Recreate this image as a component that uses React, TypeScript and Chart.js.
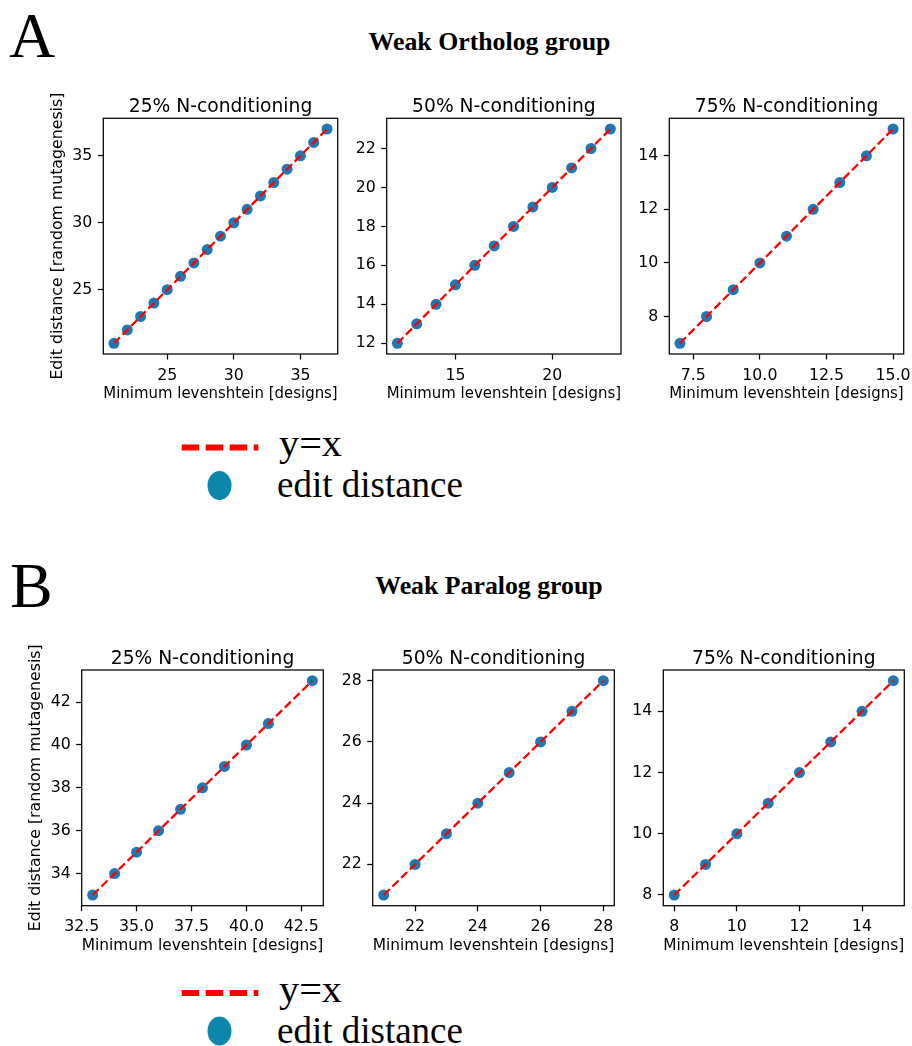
import React, { useEffect, useRef } from "react";
import { Chart, registerables } from "chart.js";

Chart.register(...registerables);

// ---------- data ----------
const A25_LEV = [21, 22, 23, 24, 25, 26, 27, 28, 29, 30, 31, 32, 33, 34, 35, 36, 37];
const A25_EDIT = [21, 22, 23, 24, 25, 26, 27, 28, 29, 30, 31, 32, 33, 34, 35, 36, 37];
const A50_LEV = [12, 13, 14, 15, 16, 17, 18, 19, 20, 21, 22, 23];
const A50_EDIT = [12, 13, 14, 15, 16, 17, 18, 19, 20, 21, 22, 23];
const A75_LEV = [7, 8, 9, 10, 11, 12, 13, 14, 15];
const A75_EDIT = [7, 8, 9, 10, 11, 12, 13, 14, 15];

const B25_LEV = [33, 34, 35, 36, 37, 38, 39, 40, 41, 43];
const B25_EDIT = [33, 34, 35, 36, 37, 38, 39, 40, 41, 43];
const B50_LEV = [21, 22, 23, 24, 25, 26, 27, 28];
const B50_EDIT = [21, 22, 23, 24, 25, 26, 27, 28];
const B75_LEV = [8, 9, 10, 11, 12, 13, 14, 15];
const B75_EDIT = [8, 9, 10, 11, 12, 13, 14, 15];

// tick labels
const A25_XTICKS = [25, 30, 35];
const A25_YTICKS = [25, 30, 35];
const A50_XTICKS = [15, 20];
const A50_YTICKS = [12, 14, 16, 18, 20, 22];
const A75_XTICKS = [7.5, 10.0, 12.5, 15.0];
const A75_YTICKS = [8, 10, 12, 14];
const B25_XTICKS = [32.5, 35.0, 37.5, 40.0, 42.5];
const B25_YTICKS = [34, 36, 38, 40, 42];
const B50_XTICKS = [22, 24, 26, 28];
const B50_YTICKS = [22, 24, 26, 28];
const B75_XTICKS = [8, 10, 12, 14];
const B75_YTICKS = [8, 10, 12, 14];

const PANEL_TITLES = ["25% N-conditioning", "50% N-conditioning", "75% N-conditioning"];
const GROUP_TITLES = ["Weak Ortholog group", "Weak Paralog group"];
const X_LABEL = "Minimum levenshtein [designs]";
const Y_LABEL = "Edit distance [random mutagenesis]";
const LEGEND_LABELS = ["y=x", "edit distance"];

// ---------- layout ----------
type Panel = {
  title: string;
  box: [number, number, number, number];
  lev: number[];
  edit: number[];
  xt: number[];
  yt: number[];
  xDec: number;
  yDec: number;
  yLabel: boolean;
};

const PANELS: Panel[] = [
  { title: PANEL_TITLES[0], box: [103.3, 118.3, 337.7, 354], lev: A25_LEV, edit: A25_EDIT, xt: A25_XTICKS, yt: A25_YTICKS, xDec: 0, yDec: 0, yLabel: true },
  { title: PANEL_TITLES[1], box: [386.7, 118.3, 621, 354], lev: A50_LEV, edit: A50_EDIT, xt: A50_XTICKS, yt: A50_YTICKS, xDec: 0, yDec: 0, yLabel: false },
  { title: PANEL_TITLES[2], box: [669.3, 118.3, 903.7, 354], lev: A75_LEV, edit: A75_EDIT, xt: A75_XTICKS, yt: A75_YTICKS, xDec: 1, yDec: 0, yLabel: false },
  { title: PANEL_TITLES[0], box: [81.7, 670, 323.3, 905.7], lev: B25_LEV, edit: B25_EDIT, xt: B25_XTICKS, yt: B25_YTICKS, xDec: 1, yDec: 0, yLabel: true },
  { title: PANEL_TITLES[1], box: [372.7, 670, 614.3, 905.7], lev: B50_LEV, edit: B50_EDIT, xt: B50_XTICKS, yt: B50_YTICKS, xDec: 0, yDec: 0, yLabel: false },
  { title: PANEL_TITLES[2], box: [663.3, 670, 904.3, 905.7], lev: B75_LEV, edit: B75_EDIT, xt: B75_XTICKS, yt: B75_YTICKS, xDec: 0, yDec: 0, yLabel: false },
];

const PAD_L = 62;
const PAD_T = 40;
const PAD_R = 24;
const PAD_B = 62;
const FONT = "DejaVu Sans";
const TICK_SIZE = 15.75;
const TITLE_SIZE = 18.7;

const framePlugin = {
  id: "mplFrame",
  afterDatasetsDraw(chart: any) {
    const { ctx, chartArea } = chart;
    const { left, top, right, bottom } = chartArea;
    ctx.save();
    ctx.strokeStyle = "#000";
    ctx.lineWidth = 1.25;
    ctx.strokeRect(left, top, right - left, bottom - top);
    ctx.restore();
  },
  afterDraw(chart: any) {
    const { ctx, chartArea } = chart;
    const t = chart.options.plugins.mplFrame?.title;
    if (!t) return;
    ctx.save();
    ctx.fillStyle = "#000";
    ctx.font = `${TITLE_SIZE}px "${FONT}"`;
    ctx.textAlign = "center";
    ctx.textBaseline = "alphabetic";
    ctx.fillText(t, (chartArea.left + chartArea.right) / 2, chartArea.top - 6.5);
    ctx.restore();
  },
};

function PanelChart({ p }: { p: Panel }) {
  const ref = useRef<HTMLCanvasElement>(null);
  const [L, T, R, B] = p.box;
  const cLeft = Math.floor(L) - PAD_L;
  const cTop = Math.floor(T) - PAD_T;
  const cw = Math.ceil(R) - Math.floor(L) + PAD_L + PAD_R;
  const ch = Math.ceil(B) - Math.floor(T) + PAD_T + PAD_B;

  useEffect(() => {
    if (!ref.current) return;
    const xmin = Math.min(...p.lev), xmax = Math.max(...p.lev);
    const ymin = Math.min(...p.edit), ymax = Math.max(...p.edit);
    const xm = 0.05 * (xmax - xmin), ym = 0.05 * (ymax - ymin);
    const pts = p.lev.map((v, i) => ({ x: v, y: p.edit[i] }));
    const linePts = p.lev.map((v) => ({ x: v, y: v }));
    const tickFont = { family: FONT, size: TICK_SIZE };
    const grid = {
      display: true,
      drawOnChartArea: false,
      drawTicks: true,
      tickLength: 5.5,
      tickWidth: 1.25,
      tickColor: "#000",
    };
    const chart = new Chart(ref.current, {
      type: "scatter",
      data: {
        datasets: [
          {
            type: "line",
            label: LEGEND_LABELS[0],
            data: linePts,
            borderColor: "#ff0000",
            borderWidth: 2.3,
            borderDash: [8.5, 3.7],
            pointRadius: 0,
            fill: false,
            tension: 0,
            order: 0,
          } as any,
          {
            type: "scatter",
            label: LEGEND_LABELS[1],
            data: pts,
            backgroundColor: "#1f77b4",
            borderWidth: 0,
            pointRadius: 5.5,
            pointHoverRadius: 5.5,
            order: 1,
          } as any,
        ],
      },
      options: {
        responsive: false,
        animation: false,
        devicePixelRatio: 1,
        events: [],
        layout: {
          padding: {
            left: L - Math.floor(L),
            top: PAD_T + (T - Math.floor(T)),
            right: Math.ceil(R) - R + PAD_R,
            bottom: Math.ceil(B) - B,
          },
        },
        plugins: {
          legend: { display: false },
          tooltip: { enabled: false },
          title: { display: false },
          mplFrame: { title: p.title },
        } as any,
        scales: {
          x: {
            type: "linear",
            position: "bottom",
            min: xmin - xm,
            max: xmax + xm,
            grid,
            border: { display: false },
            afterFit: (s: any) => {
              s.height = PAD_B;
            },
            afterBuildTicks: (s: any) => {
              s.ticks = p.xt.map((v) => ({ value: v }));
            },
            ticks: {
              autoSkip: false,
              maxRotation: 0,
              minRotation: 0,
              padding: 6.5,
              color: "#000",
              font: tickFont,
              callback: (v: any) => Number(v).toFixed(p.xDec),
            },
            title: {
              display: true,
              text: X_LABEL,
              color: "#000",
              font: tickFont,
              padding: { top: 0, bottom: 12.5 },
            },
          },
          y: {
            type: "linear",
            position: "left",
            min: ymin - ym,
            max: ymax + ym,
            grid,
            border: { display: false },
            afterFit: (s: any) => {
              s.width = PAD_L;
            },
            afterBuildTicks: (s: any) => {
              s.ticks = p.yt.map((v) => ({ value: v }));
            },
            ticks: {
              autoSkip: false,
              padding: 5.5,
              color: "#000",
              font: tickFont,
              callback: (v: any) => Number(v).toFixed(p.yDec),
            },
            title: {
              display: p.yLabel,
              text: Y_LABEL,
              color: "#000",
              font: tickFont,
              padding: { top: 7, bottom: 0 },
            },
          },
        },
      } as any,
      plugins: [framePlugin],
    });
    return () => chart.destroy();
  }, []);

  return (
    <canvas
      ref={ref}
      width={cw}
      height={ch}
      style={{ position: "absolute", left: cLeft, top: cTop, width: cw, height: ch }}
    />
  );
}

function Legend({ dy }: { dy: number }) {
  return (
    <g>
      <line
        x1={181.7}
        x2={258.3}
        y1={447.5 + dy}
        y2={447.5 + dy}
        stroke="#ff0000"
        strokeWidth={6}
        strokeDasharray="17.5 6.5"
      />
      <text x={279} y={456 + dy} fontFamily="Liberation Serif" fontSize={37} fill="#000" textLength={63} lengthAdjust="spacingAndGlyphs">
        {LEGEND_LABELS[0]}
      </text>
      <ellipse cx={219.5} cy={485.5 + dy} rx={12} ry={14.5} fill="#0c87ab" />
      <text x={277} y={497.3 + dy} fontFamily="Liberation Serif" fontSize={37} fill="#000">
        {LEGEND_LABELS[1]}
      </text>
    </g>
  );
}

export default function App() {
  return (
    <div
      style={{
        position: "absolute",
        left: 0,
        top: 0,
        width: 912,
        height: 1046,
        background: "#fff",
        overflow: "hidden",
      }}
    >
      <svg
        width={912}
        height={1046}
        style={{ position: "absolute", left: 0, top: 0 }}
      >
        <text x={9} y={56.7} fontFamily="Liberation Serif" fontSize={64} fill="#000">A</text>
        <text x={489.5} y={50} textAnchor="middle" fontFamily="Liberation Serif" fontWeight="bold" fontSize={25.8} fill="#000">
          {GROUP_TITLES[0]}
        </text>
        <text x={10} y={607} fontFamily="Liberation Serif" fontSize={64} fill="#000">B</text>
        <text x={489} y={594} textAnchor="middle" fontFamily="Liberation Serif" fontWeight="bold" fontSize={25.8} fill="#000">
          {GROUP_TITLES[1]}
        </text>
        <Legend dy={0} />
        <Legend dy={545.5} />
      </svg>
      {PANELS.map((p, i) => (
        <PanelChart key={i} p={p} />
      ))}
    </div>
  );
}
